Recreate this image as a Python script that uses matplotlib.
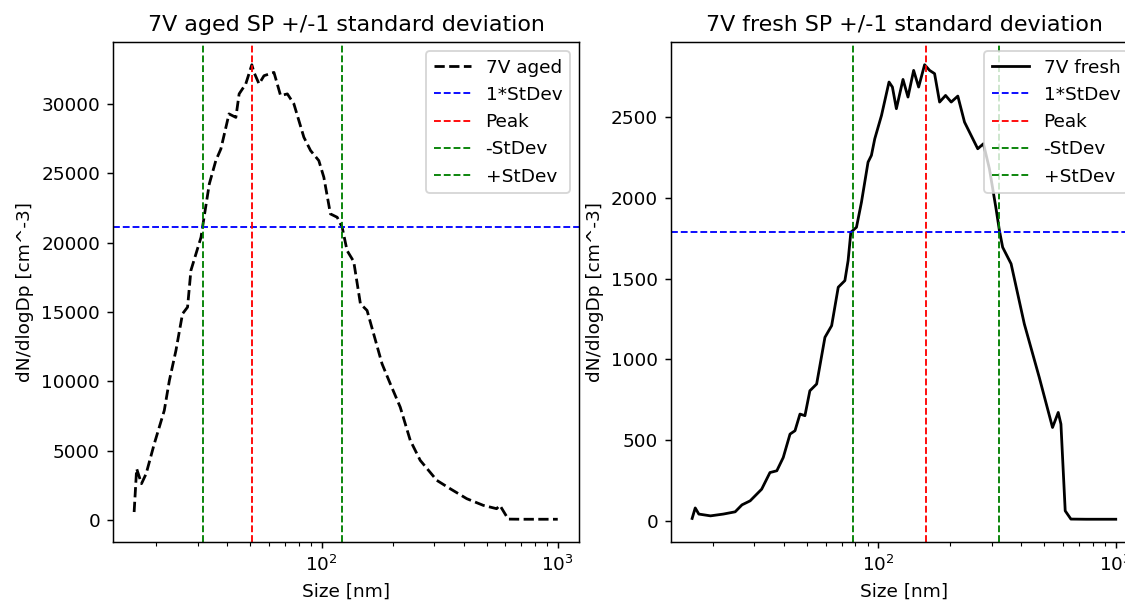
import matplotlib.pyplot as plt
import numpy as np

# 7V aged size distribution
aged_size = [16.1, 16.5, 17.3, 18.1, 19.6, 21.6, 22.7, 24.2, 25.8, 27.1, 28.0, 30.9,
             31.4, 33.5, 35.7, 37.5, 40.6, 43.4, 44.8, 47.8, 50.7, 51.8, 54.4, 57.1,
             62.9, 67.1, 71.7, 76.4, 84.2, 89.9, 97.4, 102.3, 109.1, 116.5, 122.3,
             128.3, 136.9, 146.1, 155.9, 166.2, 180.4, 195.5, 215.4, 237.5, 261.7,
             307.7, 350.3, 412.0, 484.0, 551.0, 569.0, 617.0, 700.0, 850.0, 1000.0]
aged_dn = [600, 3720, 2640, 3360, 5520, 7910, 10070, 12230, 14870, 15350, 17990, 20380,
           21170, 24220, 25900, 26740, 29260, 29010, 30700, 31420, 32800, 32250, 31420, 32010,
           32250, 30580, 30700, 29980, 27580, 26620, 25900, 24700, 22060, 21820, 21100,
           19420, 18630, 15590, 15110, 13430, 11270, 9830, 8150, 5760, 4320,
           2880, 2280, 1560, 1080, 840, 1080, 90, 80, 80, 80]

# 7V fresh size distribution
fresh_size = [16.4, 16.9, 17.5, 19.6, 22.2, 24.9, 26.6, 28.8, 32.2, 34.9, 37.3, 39.7,
              42.4, 44.5, 46.7, 49.0, 51.4, 54.9, 59.5, 63.5, 67.7, 72.2, 74.5, 76.5,
              80.8, 84.8, 90.4, 93.4, 96.5, 103.0, 110.8, 114.5, 119.0, 126.9, 133.2,
              140.7, 147.7, 156.5, 164.3, 172.4, 181.0, 191.8, 202.6, 216.0, 230.5,
              241.9, 262.1, 277.0, 293.5, 313.1, 323.4, 333.8, 362.2, 411.8, 476.1,
              541.5, 572.3, 587.5, 612.4, 647.2, 750.0, 1000.0]
fresh_dn = [15, 80, 42, 31, 42, 56, 99, 124, 196, 299, 310, 392,
            537, 558, 661, 651, 805, 847, 1136, 1208, 1446, 1487, 1611, 1786,
            1817, 1972, 2220, 2262, 2365, 2509, 2716, 2685, 2551, 2732, 2623,
            2788, 2685, 2823, 2788, 2768, 2592, 2633, 2592, 2629, 2468,
            2406, 2303, 2334, 2179, 1931, 1797, 1693, 1591, 1219, 888,
            578, 671, 599, 62, 11, 10, 10]

# peak / standard deviation markers
aged_peak, aged_minus, aged_plus, aged_level = 51.0, 31.6, 121.8, 21150
fresh_peak, fresh_minus, fresh_plus, fresh_level = 158.5, 78.2, 322.0, 1786

dpi = 133
fig = plt.figure(figsize=(1125 / dpi, 608 / dpi), dpi=dpi)
ax1 = fig.add_axes([0.1004, 0.1086, 0.4142, 0.8223])
ax2 = fig.add_axes([0.5964, 0.1086, 0.4142, 0.8223])

panels = [
    (ax1, aged_size, aged_dn, 'k--', '7V aged', aged_peak, aged_minus, aged_plus, aged_level,
     '7V aged SP +/-1 standard deviation'),
    (ax2, fresh_size, fresh_dn, 'k-', '7V fresh', fresh_peak, fresh_minus, fresh_plus, fresh_level,
     '7V fresh SP +/-1 standard deviation'),
]

for ax, x, y, fmt, lab, pk, mn, pl, lev, title in panels:
    ax.plot(x, y, fmt, label=lab)
    ax.axhline(lev, color='b', linestyle='--', linewidth=1, label='1*StDev')
    ax.axvline(pk, color='r', linestyle='--', linewidth=1, label='Peak')
    ax.axvline(mn, color='g', linestyle='--', linewidth=1, label='-StDev')
    ax.axvline(pl, color='g', linestyle='--', linewidth=1, label='+StDev')
    ax.set_xscale('log')
    ax.set_xlabel('Size [nm]')
    ax.set_ylabel('dN/dlogDp [cm^-3]')
    ax.set_title(title)
    ax.legend(loc='upper right')

fig.savefig('out.png', dpi=dpi)
